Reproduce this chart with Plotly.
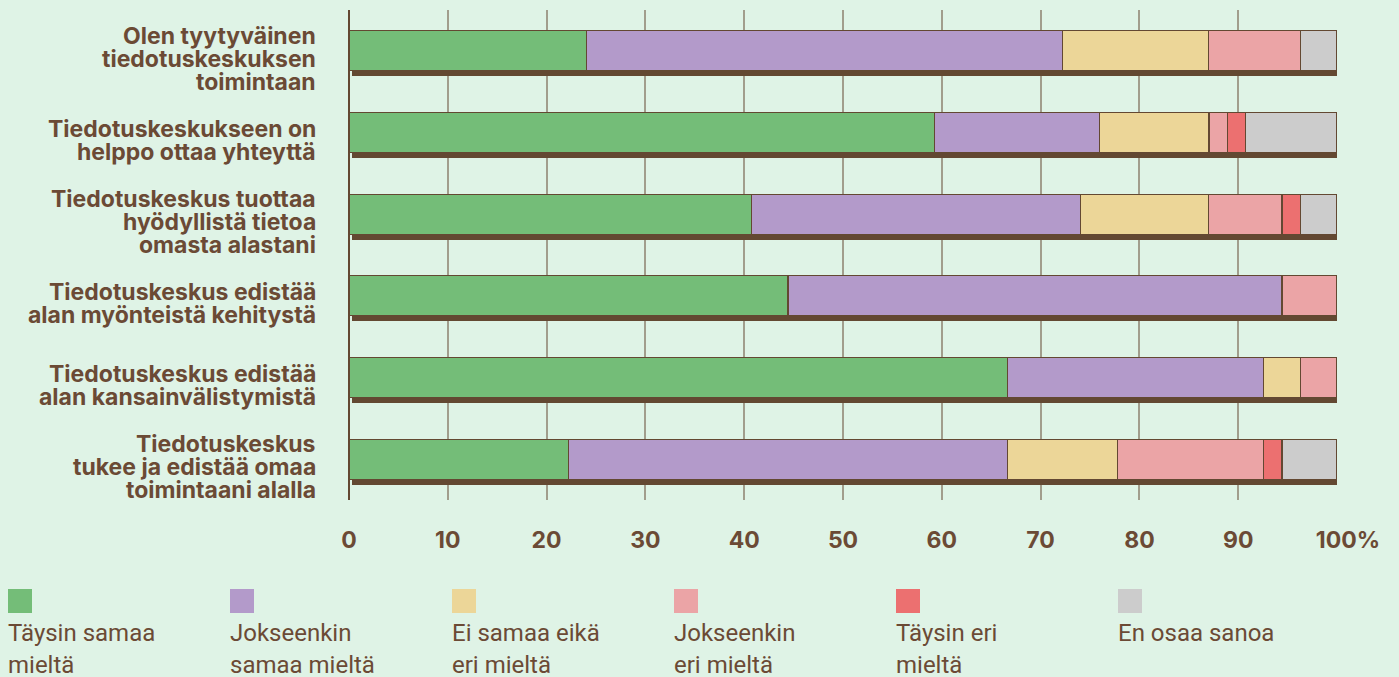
import plotly.graph_objects as go

category_lines = [
    ["Olen tyytyväinen", "tiedotuskeskuksen", "toimintaan"],
    ["Tiedotuskeskukseen on", "helppo ottaa yhteyttä"],
    ["Tiedotuskeskus tuottaa", "hyödyllistä tietoa", "omasta alastani"],
    ["Tiedotuskeskus edistää", "alan myönteistä kehitystä"],
    ["Tiedotuskeskus edistää", "alan kansainvälistymistä"],
    ["Tiedotuskeskus", "tukee ja edistää omaa", "toimintaani alalla"],
]
categories = [" ".join(lines) for lines in category_lines]

series_names = [
    "Täysin samaa mieltä",
    "Jokseenkin samaa mieltä",
    "Ei samaa eikä eri mieltä",
    "Jokseenkin eri mieltä",
    "Täysin eri mieltä",
    "En osaa sanoa",
]
legend_lines = [
    ["Täysin samaa", "mieltä"],
    ["Jokseenkin", "samaa mieltä"],
    ["Ei samaa eikä", "eri mieltä"],
    ["Jokseenkin", "eri mieltä"],
    ["Täysin eri", "mieltä"],
    ["En osaa sanoa"],
]

taysin_samaa = [24.07, 59.26, 40.74, 44.44, 66.67, 22.22]
jokseenkin_samaa = [48.15, 16.67, 33.33, 50.00, 25.93, 44.44]
ei_samaa_eika = [14.81, 11.11, 12.96, 0.00, 3.70, 11.11]
jokseenkin_eri = [9.26, 1.85, 7.41, 5.56, 3.70, 14.81]
taysin_eri = [0.00, 1.85, 1.85, 0.00, 0.00, 1.85]
en_osaa = [3.70, 9.26, 3.70, 0.00, 0.00, 5.56]

series_values = [taysin_samaa, jokseenkin_samaa, ei_samaa_eika,
                 jokseenkin_eri, taysin_eri, en_osaa]

tick_values = [0, 10, 20, 30, 40, 50, 60, 70, 80, 90, 100]
tick_labels = ["0", "10", "20", "30", "40", "50", "60", "70", "80", "90",
               "\u00a0\u00a0\u00a0\u00a0100%"]

colors = ["#74bd78", "#b39aca", "#ecd698", "#eba4a6", "#ec7070", "#cccccc"]
brown = "#634832"
text_color = "#6b4a35"
bg = "#dff3e6"
bold_font = "Inter, Lato, sans-serif"
legend_font = "Roboto, 'Noto Sans', sans-serif"

totals = [sum(v[i] for v in series_values) for i in range(len(categories))]

fig = go.Figure()

# drop shadow behind the bars (drawn on base axes with slightly shifted ranges)
fig.add_trace(go.Bar(
    y=categories, x=totals, orientation="h", width=0.49,
    marker=dict(color=brown, line=dict(width=0)),
    xaxis="x", yaxis="y", showlegend=False, hoverinfo="skip",
))

for name, vals, col in zip(series_names, series_values, colors):
    fig.add_trace(go.Bar(
        y=categories, x=vals, name=name, orientation="h", width=0.49,
        marker=dict(color=col, line=dict(color=brown, width=1.2)),
        xaxis="x2", yaxis="y2", showlegend=False,
    ))

W, H = 1399, 677
ML, MR, MT, MB = 349, 62, 10, 177
d = 0.068
fig.update_layout(
    barmode="stack",
    width=W, height=H,
    paper_bgcolor=bg, plot_bgcolor=bg,
    margin=dict(l=ML, r=MR, t=MT, b=MB, pad=0),
    font=dict(family=bold_font, color=text_color),
    xaxis=dict(range=[-0.3, 99.7], visible=False, showgrid=False, zeroline=False),
    yaxis=dict(type="category", categoryarray=categories,
               range=[5.5 - d, -0.5 - d], visible=False, showgrid=False),
    xaxis2=dict(overlaying="x", side="bottom", range=[0, 100],
                tickvals=tick_values, ticktext=tick_labels,
                showgrid=True, gridcolor="rgba(99,72,50,0.5)", gridwidth=1.5,
                zeroline=True, zerolinecolor=brown, zerolinewidth=2,
                showline=False, ticks="",
                tickfont=dict(size=23, color=text_color, family=bold_font, weight=700),
                ticklabelstandoff=24),
    yaxis2=dict(overlaying="y", side="left", type="category",
                categoryarray=categories, range=[5.5, -0.5],
                showgrid=False, zeroline=False, showline=False, ticks="",
                showticklabels=False),
)

# category labels, one annotation per line for tight leading
line_gap = 23.3
for cat, lines in zip(categories, category_lines):
    n = len(lines)
    for j, line in enumerate(lines):
        fig.add_annotation(
            xref="paper", yref="y2", x=0, y=cat,
            xanchor="right", yanchor="middle", xshift=-31,
            yshift=-(8 + (j - (n - 1) / 2) * line_gap),
            showarrow=False, text=line,
            font=dict(size=23, color=text_color, family=bold_font, weight=700),
        )

# custom legend (swatch above text)
plot_w = W - ML - MR
plot_h = H - MT - MB

def px_to_paper_x(px):
    return (px - ML) / plot_w

def px_to_paper_y(py):
    return (MT + plot_h - py) / plot_h

x0_px = 8
step_px = 222
for i, (col, lines) in enumerate(zip(colors, legend_lines)):
    lx = x0_px + i * step_px
    fig.add_shape(type="rect", xref="paper", yref="paper",
                  x0=px_to_paper_x(lx), x1=px_to_paper_x(lx + 24),
                  y0=px_to_paper_y(589), y1=px_to_paper_y(613),
                  fillcolor=col, line=dict(width=0))
    for j, line in enumerate(lines):
        fig.add_annotation(xref="paper", yref="paper",
                           x=px_to_paper_x(lx - 2), y=px_to_paper_y(633 + 32 * j),
                           xanchor="left", yanchor="middle", showarrow=False,
                           text=line,
                           font=dict(size=24, color=text_color, family=legend_font))

fig.write_html("out.html", config={"displayModeBar": False},
               post_script="document.body.style.margin='0px';")
